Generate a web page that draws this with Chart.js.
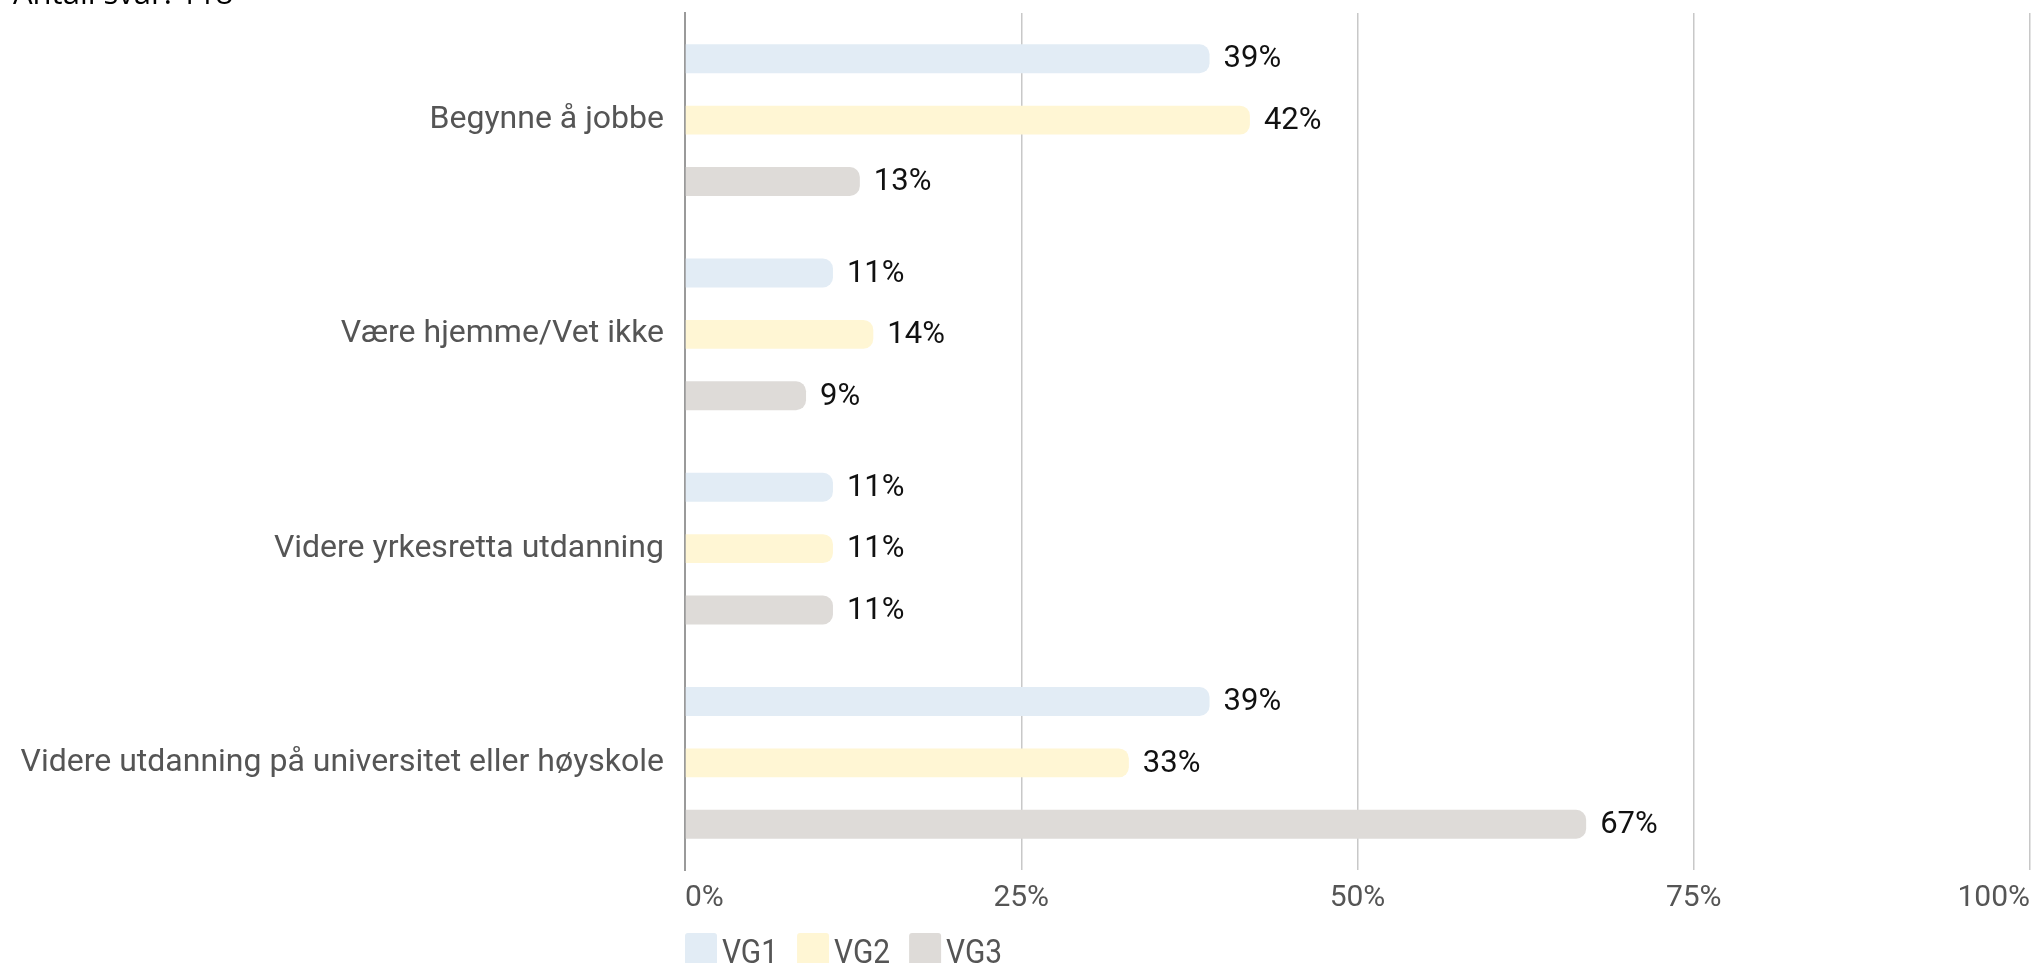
<!DOCTYPE html>
<html>
<head>
<meta charset="utf-8">
<script src="https://cdn.jsdelivr.net/npm/chart.js@4.4.1/dist/chart.umd.min.js"></script>
<style>
  html, body { margin: 0; padding: 0; background: #fff; overflow: hidden; }
  #wrap { position: relative; width: 2037px; height: 963px; overflow: hidden; }
</style>
</head>
<body>
<div id="wrap">
  <canvas id="svar" width="2037" height="1000"></canvas>
</div>
<script>
const categories = [
  "Begynne å jobbe",
  "Være hjemme/Vet ikke",
  "Videre yrkesretta utdanning",
  "Videre utdanning på universitet eller høyskole"
];
const vg1 = [39, 11, 11, 39];
const vg2 = [42, 14, 11, 33];
const vg3 = [13, 9, 11, 67];
const xTicks = [0, 25, 50, 75, 100];
const antallSvar = "Antall svar: 118";

// percent labels to the right of each bar
const barValues = {
  id: 'barValues',
  afterDatasetsDraw(chart) {
    const ctx = chart.ctx;
    ctx.save();
    ctx.font = '31px Roboto';
    ctx.fillStyle = '#111';
    ctx.textAlign = 'left';
    ctx.textBaseline = 'middle';
    chart.data.datasets.forEach((ds, i) => {
      chart.getDatasetMeta(i).data.forEach((bar, j) => {
        ctx.fillText(ds.data[j] + '%', bar.x + 14, bar.y + 1);
      });
    });
    ctx.restore();
  }
};

// legend row under the x axis, lined up with the plot's left edge
const legendRow = {
  id: 'legendRow',
  afterDraw(chart) {
    const ctx = chart.ctx;
    const top = chart.scales.x.bottom + 17;
    const squeeze = 0.88;
    let x = chart.chartArea.left;
    ctx.save();
    ctx.font = '34px Roboto';
    ctx.textAlign = 'left';
    ctx.textBaseline = 'alphabetic';
    chart.data.datasets.forEach(ds => {
      ctx.fillStyle = ds.backgroundColor;
      ctx.beginPath();
      ctx.roundRect(x, top, 32, 34, 3);
      ctx.fill();
      const w = ctx.measureText(ds.label).width * squeeze;
      ctx.save();
      ctx.translate(x + 37, top + 30);
      ctx.scale(squeeze, 1);
      ctx.fillStyle = '#555';
      ctx.fillText(ds.label, 0, 0);
      ctx.restore();
      x += 37 + w + 19;
    });
    ctx.restore();
  }
};

// response count, sits above the top edge
const topNote = {
  id: 'topNote',
  afterDraw(chart) {
    const ctx = chart.ctx;
    ctx.save();
    ctx.font = '31px "Open Sans"';
    ctx.fillStyle = '#000';
    ctx.textBaseline = 'alphabetic';
    ctx.fillText(antallSvar, 13, 4);
    ctx.restore();
  }
};

function noScalePadding(scale) {
  scale.paddingTop = 0;
  scale.paddingBottom = 0;
  scale.paddingLeft = 0;
  scale.paddingRight = 0;
}

new Chart(document.getElementById('svar').getContext('2d'), {
  type: 'bar',
  data: {
    labels: categories,
    datasets: [
      { label: 'VG1', data: vg1, backgroundColor: '#e2ecf5' },
      { label: 'VG2', data: vg2, backgroundColor: '#fff6d4' },
      { label: 'VG3', data: vg3, backgroundColor: '#dedbd8' }
    ]
  },
  options: {
    indexAxis: 'y',
    responsive: false,
    animation: false,
    layout: { padding: { top: 13, right: 7, bottom: 84, left: 0 } },
    datasets: {
      bar: {
        barPercentage: 0.4715,
        categoryPercentage: 0.86,
        borderRadius: 10,
        borderSkipped: 'start'
      }
    },
    scales: {
      x: {
        min: 0,
        max: 100,
        afterBuildTicks(scale) {
          scale.ticks = xTicks.map(v => ({ value: v }));
        },
        afterFit(scale) {
          noScalePadding(scale);
          scale.height = 46;
        },
        grid: { color: '#c8c8c8', lineWidth: 1.5, drawTicks: false },
        border: { display: false },
        ticks: {
          align: 'inner',
          padding: 10,
          color: '#555',
          font: { family: 'Roboto', size: 30 },
          callback: v => v + '%'
        }
      },
      y: {
        afterFit(scale) {
          noScalePadding(scale);
          scale.width = 685;
        },
        grid: { display: false, drawTicks: false },
        border: { display: true, color: '#9a9a9a', width: 2 },
        ticks: {
          padding: 21,
          color: '#555',
          font: { family: 'Roboto', size: 32 }
        }
      }
    },
    plugins: {
      tooltip: { enabled: false },
      legend: { display: false }
    }
  },
  plugins: [barValues, legendRow, topNote]
});
</script>
</body>
</html>
